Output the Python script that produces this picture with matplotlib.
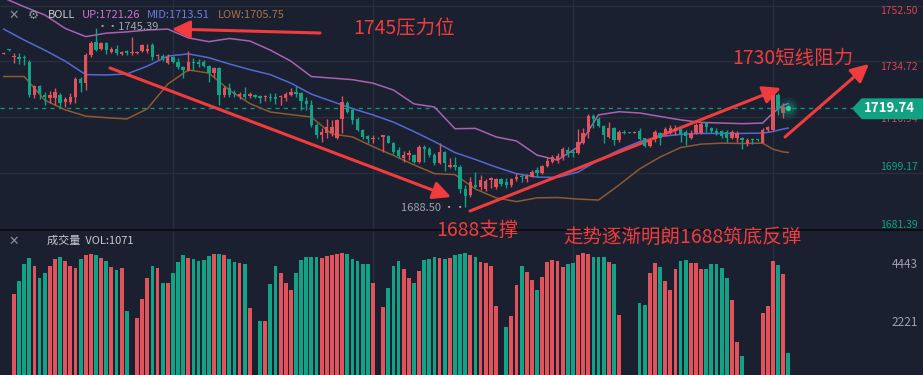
import numpy as np
import matplotlib
matplotlib.use('Agg')
import matplotlib.pyplot as plt
from matplotlib.patches import Polygon
from matplotlib.lines import Line2D

plt.rcParams['font.family'] = ['Noto Sans CJK SC', 'DejaVu Sans']

W, H = 923, 375

# K线数据
opens = [1737.2, 1738.6, 1736.0, 1736.2, 1736.2, 1734.6, 1724.0, 1726.9, 1724.0, 1723.0,
         1723.0, 1724.0, 1721.9, 1721.9, 1723.3, 1729.0, 1727.9, 1736.8, 1741.0, 1738.6,
         1740.7, 1737.8, 1738.6, 1737.1, 1738.1, 1737.3, 1737.3, 1738.1, 1738.1, 1739.9,
         1736.4, 1736.4, 1734.3, 1736.0, 1734.6, 1732.8, 1731.8, 1734.6, 1734.6, 1734.6,
         1733.2, 1730.9, 1732.5, 1724.0, 1726.1, 1724.6, 1723.7, 1724.3, 1723.7, 1724.0,
         1723.7, 1723.3, 1723.5, 1723.5, 1723.3, 1723.0, 1724.0, 1725.1, 1724.8, 1722.2,
         1720.8, 1714.5, 1711.3, 1711.8, 1712.0, 1710.5, 1716.3, 1721.4, 1719.3, 1716.3,
         1712.9, 1711.0, 1709.9, 1710.3, 1710.8, 1711.0, 1708.6, 1706.5, 1703.9, 1705.0,
         1704.9, 1702.8, 1707.6, 1707.0, 1704.9, 1702.3, 1706.0, 1701.0, 1701.7, 1701.0,
         1694.0, 1692.2, 1695.4, 1694.8, 1694.0, 1697.0, 1694.6, 1697.4, 1696.4, 1695.4,
         1697.2, 1698.2, 1697.2, 1698.0, 1700.2, 1699.1, 1701.4, 1702.8, 1703.3, 1704.2,
         1706.5, 1706.0, 1705.7, 1708.9, 1712.4, 1717.3, 1716.3, 1714.2, 1710.8, 1713.4,
         1709.7, 1712.4, 1712.3, 1712.0, 1712.7, 1710.2, 1707.8, 1709.9, 1712.0, 1711.6,
         1712.0, 1712.7, 1713.1, 1712.4, 1710.5, 1712.0, 1712.0, 1715.0, 1713.4, 1712.7,
         1712.7, 1712.4, 1710.5, 1710.2, 1710.5, 1708.6, 1709.9, 1709.9, 1708.6, 1712.9,
         1713.0, 1724.0, 1718.2, 1720.1]
highs = [1737.6, 1738.8, 1737.3, 1737.3, 1736.8, 1735.2, 1727.2, 1727.2, 1725.1, 1725.4,
         1726.1, 1724.6, 1723.3, 1724.8, 1729.9, 1729.9, 1737.3, 1741.3, 1745.39, 1741.0,
         1741.0, 1739.4, 1739.9, 1738.1, 1738.3, 1742.6, 1738.1, 1740.3, 1740.3, 1740.5,
         1737.1, 1737.1, 1737.1, 1736.4, 1735.7, 1733.2, 1738.0, 1735.7, 1735.4, 1735.2,
         1733.6, 1733.0, 1733.0, 1726.9, 1727.7, 1725.6, 1725.1, 1726.7, 1725.1, 1724.3,
         1724.0, 1724.0, 1724.8, 1724.8, 1724.0, 1725.1, 1726.1, 1726.9, 1725.1, 1723.5,
         1722.4, 1715.0, 1713.4, 1716.3, 1716.1, 1716.3, 1723.7, 1722.2, 1719.5, 1717.1,
         1713.1, 1711.3, 1711.3, 1710.6, 1711.3, 1711.3, 1709.2, 1707.6, 1706.3, 1706.5,
         1705.2, 1708.1, 1708.1, 1707.6, 1705.7, 1708.6, 1706.3, 1703.9, 1704.2, 1701.7,
         1695.5, 1698.0, 1699.6, 1698.6, 1697.2, 1698.0, 1697.5, 1697.5, 1697.5, 1697.5,
         1699.1, 1698.9, 1698.9, 1700.2, 1701.0, 1701.7, 1704.2, 1704.9, 1705.5, 1707.4,
         1707.6, 1706.7, 1713.1, 1713.4, 1718.0, 1718.0, 1717.1, 1714.5, 1715.5, 1714.0,
         1712.9, 1712.9, 1712.4, 1712.6, 1713.4, 1710.5, 1710.5, 1712.9, 1712.3, 1713.9,
         1714.5, 1714.5, 1713.9, 1712.9, 1712.9, 1715.2, 1715.5, 1715.5, 1713.9, 1713.4,
         1712.9, 1712.9, 1712.9, 1712.7, 1710.8, 1710.2, 1710.2, 1710.0, 1713.4, 1714.3,
         1724.6, 1724.6, 1721.4, 1721.0]
lows = [1737.0, 1738.1, 1734.1, 1733.9, 1733.6, 1723.5, 1723.2, 1722.7, 1720.8, 1721.4,
        1720.8, 1719.8, 1720.1, 1721.2, 1721.6, 1725.1, 1725.6, 1736.2, 1738.1, 1738.3,
        1737.1, 1737.3, 1736.8, 1736.8, 1736.8, 1736.8, 1737.1, 1737.8, 1737.3, 1735.2,
        1735.4, 1734.9, 1733.9, 1734.3, 1732.2, 1729.3, 1731.8, 1732.0, 1732.8, 1732.8,
        1728.3, 1729.9, 1720.8, 1723.3, 1723.3, 1723.5, 1722.6, 1722.6, 1723.0, 1723.0,
        1721.6, 1722.2, 1722.2, 1721.2, 1720.8, 1722.2, 1723.7, 1723.5, 1719.2, 1719.2,
        1713.9, 1710.5, 1709.2, 1710.5, 1711.0, 1709.9, 1711.8, 1718.2, 1714.8, 1712.7,
        1709.9, 1708.9, 1708.9, 1709.9, 1706.0, 1708.6, 1705.2, 1703.9, 1702.8, 1703.3,
        1702.3, 1702.3, 1702.8, 1704.2, 1701.7, 1702.0, 1699.9, 1700.7, 1700.2, 1693.0,
        1688.5, 1691.7, 1694.3, 1693.8, 1693.6, 1694.3, 1694.0, 1695.1, 1694.3, 1694.6,
        1696.8, 1696.4, 1696.4, 1697.8, 1697.8, 1698.9, 1701.0, 1702.3, 1702.3, 1703.3,
        1704.2, 1704.2, 1705.2, 1708.4, 1710.5, 1713.4, 1714.0, 1708.9, 1710.5, 1708.1,
        1709.2, 1711.5, 1711.8, 1711.8, 1709.7, 1707.4, 1707.4, 1709.2, 1708.1, 1711.0,
        1711.6, 1711.3, 1709.2, 1708.1, 1709.9, 1711.6, 1711.6, 1712.4, 1711.8, 1711.3,
        1710.2, 1709.2, 1709.9, 1709.2, 1706.7, 1707.8, 1708.4, 1709.4, 1708.6, 1712.4,
        1712.5, 1717.7, 1716.6, 1718.8]
closes = [1737.4, 1738.3, 1736.4, 1735.4, 1735.8, 1724.0, 1726.9, 1724.6, 1723.3, 1724.0,
          1725.1, 1721.6, 1722.6, 1723.3, 1729.0, 1727.9, 1736.8, 1740.7, 1738.3, 1740.7,
          1738.3, 1738.6, 1737.3, 1737.8, 1737.3, 1737.8, 1737.8, 1739.9, 1738.6, 1736.2,
          1736.7, 1735.4, 1736.0, 1734.6, 1732.8, 1732.0, 1734.6, 1734.3, 1733.9, 1733.2,
          1730.9, 1732.5, 1724.0, 1726.1, 1724.0, 1724.3, 1724.3, 1723.3, 1724.3, 1723.3,
          1723.0, 1723.7, 1723.0, 1722.6, 1723.7, 1724.3, 1725.1, 1724.3, 1722.2, 1721.2,
          1714.5, 1711.3, 1712.4, 1714.0, 1713.8, 1716.1, 1721.9, 1718.7, 1716.1, 1712.9,
          1710.8, 1709.9, 1710.5, 1710.2, 1711.3, 1708.9, 1706.0, 1704.6, 1704.9, 1705.5,
          1702.8, 1707.6, 1707.0, 1704.9, 1702.3, 1706.0, 1702.3, 1701.7, 1701.0, 1694.0,
          1692.0, 1696.5, 1694.8, 1697.0, 1696.8, 1697.5, 1697.2, 1695.7, 1695.4, 1697.2,
          1698.0, 1697.8, 1698.2, 1699.6, 1699.1, 1701.4, 1703.1, 1704.2, 1704.6, 1707.0,
          1705.5, 1705.5, 1709.2, 1712.0, 1717.3, 1716.3, 1714.2, 1711.3, 1713.4, 1709.7,
          1712.2, 1711.8, 1712.0, 1712.3, 1709.9, 1707.8, 1709.7, 1712.4, 1710.5, 1713.1,
          1713.4, 1713.4, 1711.6, 1711.0, 1712.0, 1714.5, 1714.8, 1713.7, 1712.7, 1711.8,
          1711.0, 1710.5, 1712.4, 1712.0, 1709.7, 1709.7, 1709.7, 1709.6, 1712.9, 1714.0,
          1724.0, 1719.5, 1720.3, 1719.74]
volumes = [150, 150, 3314, 3809, 4456, 4684, 4380, 3923, 4113, 4380,
           4646, 4722, 4570, 4380, 4304, 4646, 4798, 4836, 4798, 4684,
           4570, 4342, 4228, 4304, 2667, 150, 2400, 3124, 3923, 4380,
           4304, 3733, 3733, 4113, 4532, 4798, 4684, 4646, 4570, 4608,
           4760, 4836, 4836, 4798, 4646, 4532, 4494, 4456, 2781, 150,
           2286, 2286, 3695, 4380, 4113, 3733, 3466, 4113, 4608, 4722,
           4722, 4722, 4684, 4760, 4798, 4836, 4874, 4836, 4646, 4570,
           4456, 4456, 3733, 150, 2819, 3542, 4380, 4570, 4266, 3923,
           3733, 4190, 4608, 4646, 4722, 4684, 4646, 4684, 4798, 4836,
           4874, 4798, 4722, 4532, 4494, 4380, 2857, 150, 2058, 2477,
           3657, 4380, 4152, 3847, 3466, 3961, 4532, 4608, 4570, 4342,
           4456, 4494, 4798, 4874, 4836, 4722, 4722, 4722, 4532, 4456,
           2515, 150, 150, 150, 2971, 2895, 4113, 4494, 4342, 3809,
           3466, 4266, 4570, 4608, 4494, 4494, 4266, 4266, 4456, 4456,
           4304, 3923, 3086, 1484, 955, 150, 150, 150, 2591, 2857,
           4570, 4418, 4075, 1071]

# BOLL 通道
boll_idx = [0, 4, 8, 12, 16, 20, 24, 28, 32, 36, 40, 44, 48, 52, 56, 60, 64, 68, 72, 76,
            80, 84, 88, 92, 96, 100, 104, 108, 112, 116, 120, 124, 128, 132, 136, 140, 144, 148,
            150, 152, 153]
boll_up = [1754.9, 1752.1, 1749.5, 1745.2, 1742.6, 1743.7, 1744.1, 1744.7, 1745.0, 1742.2,
           1741.0, 1742.0, 1741.2, 1738.3, 1734.8, 1729.9, 1729.4, 1728.9, 1727.8, 1725.6,
           1721.2, 1720.2, 1713.3, 1713.4, 1710.7, 1709.4, 1704.9, 1703.3, 1707.5, 1717.7,
           1718.7, 1718.3, 1717.2, 1716.1, 1715.3, 1715.1, 1714.9, 1715.1,
           1718.3, 1720.8, 1721.26]
boll_mid = [1745.0, 1741.5, 1738.3, 1734.8, 1730.5, 1730.4, 1730.7, 1733.2, 1736.4, 1737.1,
            1735.9, 1733.9, 1732.1, 1730.5, 1727.8, 1724.3, 1722.0, 1719.7, 1717.7, 1715.4,
            1712.4, 1709.2, 1705.7, 1703.5, 1701.1, 1699.0, 1697.9, 1697.8, 1699.5, 1703.3,
            1706.5, 1709.2, 1710.8, 1711.5, 1711.8, 1711.8, 1711.8, 1711.9,
            1712.4, 1713.2, 1713.51]
boll_low = [1729.9, 1729.9, 1722.4, 1719.3, 1717.3, 1716.8, 1716.4, 1719.6, 1727.5, 1732.0,
            1731.0, 1725.6, 1721.3, 1718.6, 1717.8, 1717.0, 1711.6, 1710.7, 1707.6, 1704.8,
            1701.8, 1699.0, 1698.7, 1694.1, 1691.3, 1690.1, 1691.3, 1691.4, 1690.9, 1690.6,
            1695.4, 1700.5, 1704.3, 1707.3, 1708.4, 1708.7, 1708.6, 1708.7,
            1706.8, 1705.9, 1705.75]

price_ticks = [1752.50, 1734.72, 1716.94, 1699.17, 1681.39]
vol_ticks = [4443, 2221]
grid_idx = [33, 72, 111, 150]
last_price = 1719.74
high_mark = 1745.39
low_mark = 1688.50

BG = '#1b2030'
GRID = '#272e3c'
RED = '#e0535b'
GREEN = '#12a386'
ARROW = '#f03c3c'


def fp(x, y):
    # 像素坐标 -> figure 坐标
    return x / W, 1 - y / H


fig = plt.figure(figsize=(W / 100, H / 100), dpi=100)
fig.patch.set_facecolor(BG)
ax = fig.add_axes([0, 145 / H, 1, 230 / H])
axv = fig.add_axes([0, 0, 1, 145 / H])
for a in (ax, axv):
    a.set_facecolor(BG)
    a.set_xlim(-0.72, 179.27)
    for s in a.spines.values():
        s.set_visible(False)
    a.set_xticks(grid_idx)
    a.tick_params(length=0, labelleft=False, labelbottom=False)
ax.set_ylim(1681.07, 1754.25)
ax.set_yticks(price_ticks)
ax.grid(color=GRID, lw=1)
axv.set_ylim(232, 5749)
axv.set_yticks([])
axv.grid(axis='x', color=GRID, lw=1)
ax.set_axisbelow(True)
axv.set_axisbelow(True)

x = np.arange(len(closes))
o = np.array(opens)
c = np.array(closes)
cols = np.where(c >= o, RED, GREEN)

# 蜡烛
ax.vlines(x, lows, highs, colors=cols, lw=1, zorder=3)
ax.bar(x, np.maximum(np.abs(c - o), 0.3), bottom=np.minimum(o, c), width=0.66,
       color=cols, lw=0, zorder=4)

# BOLL
ax.plot(boll_idx, boll_up, color='#a862b0', lw=1.1, zorder=2)
ax.plot(boll_idx, boll_mid, color='#5468d4', lw=1.1, zorder=2)
ax.plot(boll_idx, boll_low, color='#8c5a30', lw=1.1, zorder=2)

# 现价虚线 + 光点
ax.axhline(last_price, xmax=853 / W, color='#149073', lw=1, dashes=(3, 3), zorder=1)
for s, al in [(260, 0.10), (150, 0.15), (70, 0.25)]:
    ax.scatter([x[-1]], [last_price], s=s, color='#13a386', alpha=al, lw=0, zorder=5)
ax.scatter([x[-1]], [last_price], s=14, color='#30c9a4', lw=0, zorder=6)

# 成交量
axv.bar(x, volumes, width=0.74, color=cols, lw=0)

# 分隔线
fig.add_artist(Line2D([0, 1], [145 / H, 145 / H], color='#0b0e15', lw=1.5))

# 右侧价格刻度
label_y = [10.7, 66.7, 118.5, 167.5, 225]
label_c = ['#d0454e', '#d0454e', '#d0454e', '#14a180', '#14a180']
for v, yy, cc in zip(price_ticks, label_y, label_c):
    fig.text(*fp(918, yy), f'{v:.2f}', color=cc, fontsize=7.5, ha='right', va='center')
for v, yy in zip(vol_ticks, [264.3, 322.7]):
    fig.text(*fp(918, yy), f'{v}', color='#9da2ad', fontsize=8.5, ha='right', va='center')

# 现价标签
tag = Polygon([fp(853, 108.5), fp(862, 99), fp(923, 99), fp(923, 118.5), fp(862, 118.5)],
              closed=True, transform=fig.transFigure, color='#10a283', zorder=10)
fig.add_artist(tag)
fig.text(*fp(889, 108.5), f'{last_price:.2f}', color='white', fontsize=9.5,
         fontweight='bold', ha='center', va='center', zorder=11)

# 顶部图例
fig.text(*fp(14, 15.5), '✕', color='#8c919b', fontsize=9, ha='center', va='center')
fig.text(*fp(33, 15.5), '⚙', color='#8c919b', fontsize=9, ha='center', va='center')
fig.text(*fp(48, 15.5), 'BOLL', color='#c8cbd2', fontsize=8, va='center')
fig.text(*fp(82, 15.5), f'UP:{boll_up[-1]:.2f}', color='#c775c8', fontsize=8, va='center')
fig.text(*fp(147, 15.5), f'MID:{boll_mid[-1]:.2f}', color='#6a7ee0', fontsize=8, va='center')
fig.text(*fp(218, 15.5), f'LOW:{boll_low[-1]:.2f}', color='#a87442', fontsize=8, va='center')

fig.text(*fp(14, 241), '✕', color='#8c919b', fontsize=9, ha='center', va='center')
fig.text(*fp(47, 241), f'成交量  VOL:{volumes[-1]}', color='#c8cbd2', fontsize=8, va='center')

# 高低点标记
fig.text(*fp(97, 26.5), '··' + f'{high_mark:.2f}', color='#a0a4ad', fontsize=8, va='center')
fig.text(*fp(466, 208), f'{low_mark:.2f} ··', color='#a0a4ad', fontsize=8, ha='right', va='center')

# 标注箭头
arrows = [((320, 33), (172, 29)), ((110, 68), (451, 197)),
          ((470, 211), (781, 88)), ((785, 137), (869, 64))]
for (x0, y0), (x1, y1) in arrows:
    ax.annotate('', xy=(x1, H - y1), xytext=(x0, H - y0), xycoords='figure pixels',
                textcoords='figure pixels', annotation_clip=False,
                arrowprops=dict(arrowstyle='-|>,head_length=0.9,head_width=0.45',
                                color=ARROW, lw=2.2, mutation_scale=12,
                                shrinkA=0, shrinkB=0))

fig.text(*fp(404, 29), '1745压力位', color=ARROW, fontsize=14, ha='center', va='center')
fig.text(*fp(793, 58.5), '1730短线阻力', color=ARROW, fontsize=14, ha='center', va='center')
fig.text(*fp(477, 230), '1688支撑', color=ARROW, fontsize=14, ha='center', va='center')
fig.text(*fp(682, 237), '走势逐渐明朗1688筑底反弹', color=ARROW, fontsize=14,
         ha='center', va='center')

fig.savefig('out.png', dpi=100, facecolor=BG)
